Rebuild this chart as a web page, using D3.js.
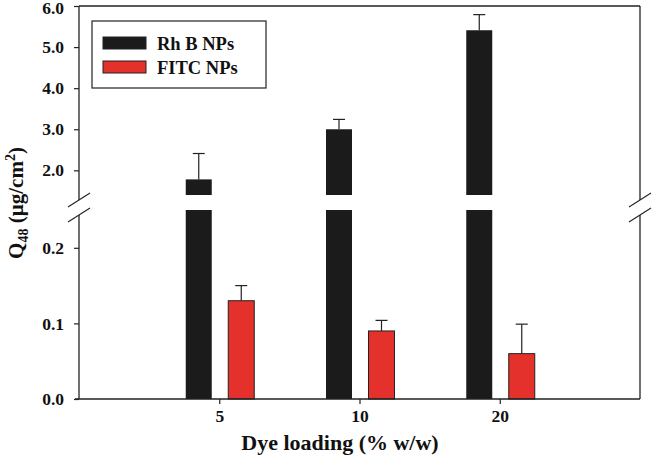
<!DOCTYPE html>
<html>
<head>
<meta charset="utf-8">
<script src="https://cdn.jsdelivr.net/npm/d3@7"></script>
<style>
html,body{margin:0;padding:0;background:#fff;}
text{font-family:"Liberation Serif","Times New Roman",serif;font-weight:bold;fill:#111;}
</style>
</head>
<body>
<svg id="chart" width="652" height="459"></svg>
<script>
// ---- data ----
const categories = ["5", "10", "20"];
const rhbValues = [1.78, 3.0, 5.41];
const rhbErrors = [0.63, 0.24, 0.38];
const fitcValues = [0.13, 0.09, 0.06];
const fitcErrors = [0.02, 0.014, 0.039];
const seriesNames = ["Rh B NPs", "FITC NPs"];
const upperTicks = [2.0, 3.0, 4.0, 5.0, 6.0];
const lowerTicks = [0.0, 0.1, 0.2];

const colors = ["#1b1b1b", "#e5312b"];

(function () {
const svg = d3.select("#chart");
const pL = 79, pR = 640, pT = 6, pB = 399;
const upperBottom = 195, lowerTop = 210;

const x = d3.scaleLinear().domain([0, categories.length + 1]).range([pL, pR]);
const yU = d3.scaleLinear().domain([1.4, 6.0]).range([upperBottom, pT]);
const yL = d3.scaleLinear().domain([0, 0.25]).range([pB, lowerTop]);

const barW = 26;
const offsets = [-33.5, 9];

function errBar(g, cx, y0, y1) {
  g.append("line").attr("x1", cx).attr("x2", cx).attr("y1", y0).attr("y2", y1)
    .attr("stroke", "#222").attr("stroke-width", 1.2);
  g.append("line").attr("x1", cx - 6).attr("x2", cx + 6).attr("y1", y1).attr("y2", y1)
    .attr("stroke", "#222").attr("stroke-width", 1.2);
}

function drawSeries(vals, errs, si) {
  vals.forEach((v, i) => {
    const cx = x(i + 1);
    const bx = cx + offsets[si];
    const g = svg.append("g");
    const e = v + errs[i];
    if (v > 0.25) {
      g.append("rect").attr("x", bx).attr("y", yL(0.25)).attr("width", barW)
        .attr("height", yL(0) - yL(0.25)).attr("fill", colors[si]);
      g.append("rect").attr("x", bx).attr("y", yU(v)).attr("width", barW)
        .attr("height", yU(1.4) - yU(v)).attr("fill", colors[si]);
      errBar(g, bx + barW / 2, yU(v), yU(e));
    } else {
      g.append("rect").attr("x", bx).attr("y", yL(v)).attr("width", barW)
        .attr("height", yL(0) - yL(v)).attr("fill", colors[si])
        .attr("stroke", "#222").attr("stroke-width", 1);
      errBar(g, bx + barW / 2, yL(v), yL(e));
    }
  });
}
drawSeries(rhbValues, rhbErrors, 0);
drawSeries(fitcValues, fitcErrors, 1);

// frame lines
const lc = "#222", lw = 1.3;
const brkU = 200, brkL = 215;
function vline(xx, y1, y2) {
  svg.append("line").attr("x1", xx).attr("x2", xx).attr("y1", y1).attr("y2", y2)
    .attr("stroke", lc).attr("stroke-width", lw);
}
vline(pL, pT, brkU); vline(pL, brkL, pB);
vline(pR, pT, brkU); vline(pR, brkL, pB);
svg.append("line").attr("x1", pL).attr("x2", pR).attr("y1", pT).attr("y2", pT)
  .attr("stroke", lc).attr("stroke-width", lw);
svg.append("line").attr("x1", pL - 4).attr("x2", pR).attr("y1", pB).attr("y2", pB)
  .attr("stroke", lc).attr("stroke-width", lw);

// break marks
[pL, pR].forEach(xx => {
  [brkU, brkL].forEach(yy => {
    svg.append("line").attr("x1", xx - 11).attr("y1", yy + 7)
      .attr("x2", xx + 11).attr("y2", yy - 7)
      .attr("stroke", lc).attr("stroke-width", 1.1);
  });
});

// y axes
const fmt = d3.format(".1f");
const axU = svg.append("g").attr("transform", `translate(${pL},0)`)
  .call(d3.axisLeft(yU).tickValues(upperTicks).tickFormat(fmt).tickSize(5).tickPadding(10));
const axL = svg.append("g").attr("transform", `translate(${pL},0)`)
  .call(d3.axisLeft(yL).tickValues(lowerTicks).tickFormat(fmt).tickSize(5).tickPadding(10));
[axU, axL].forEach(a => {
  a.select(".domain").remove();
  a.selectAll(".tick line").attr("stroke", lc).attr("stroke-width", 1.2);
  a.selectAll(".tick text").style("font-size", "17.5px").attr("fill", "#111");
});
// keep the top label inside the picture
axU.selectAll(".tick text").filter(d => d === 6.0).attr("dy", "0.45em");

// x axis
const ax = svg.append("g").attr("transform", `translate(0,${pB})`)
  .call(d3.axisBottom(x).tickValues(categories.map((c, i) => i + 1))
    .tickFormat((d) => categories[d - 1]).tickSize(5).tickPadding(6));
ax.select(".domain").remove();
ax.selectAll(".tick line").attr("stroke", lc).attr("stroke-width", 1.2);
ax.selectAll(".tick text").style("font-size", "17.5px").attr("fill", "#111");

// axis titles
svg.append("text").attr("x", 340).attr("y", 450)
  .attr("text-anchor", "middle").style("font-size", "22px").text("Dye loading (% w/w)");

const yt = svg.append("text").attr("transform", "translate(23,203) rotate(-90)")
  .attr("text-anchor", "middle").style("font-size", "21px");
yt.append("tspan").text("Q");
yt.append("tspan").attr("dy", 5).style("font-size", "14px").text("48");
yt.append("tspan").attr("dy", -5).text(" (µg/cm");
yt.append("tspan").attr("dy", -8).style("font-size", "14px").text("2");
yt.append("tspan").attr("dy", 8).text(")");

// legend
svg.append("rect").attr("x", 92).attr("y", 21).attr("width", 174).attr("height", 67)
  .attr("fill", "#fff").attr("stroke", lc).attr("stroke-width", 1.2);
seriesNames.forEach((n, i) => {
  const yy = 37 + i * 24;
  svg.append("rect").attr("x", 103).attr("y", yy).attr("width", 43).attr("height", 12)
    .attr("fill", colors[i]).attr("stroke", "#222").attr("stroke-width", 1);
  svg.append("text").attr("x", 157).attr("y", yy + 13).style("font-size", "18.5px").text(n);
});
})();
</script>
</body>
</html>
